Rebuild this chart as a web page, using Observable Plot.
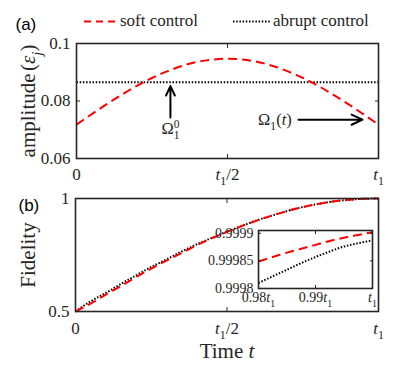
<!DOCTYPE html>
<html><head><meta charset="utf-8">
<script src="https://cdn.jsdelivr.net/npm/d3@7"></script>
<script src="https://cdn.jsdelivr.net/npm/@observablehq/plot@0.6"></script>
<style>
body{margin:0;background:#fff;}
#wrap{position:relative;width:399px;height:370px;overflow:hidden;}
#wrap svg{position:absolute;overflow:visible;}
</style></head><body><div id="wrap"></div>
<script>
// ---- data ----
const timePoints = [0,0.05,0.1,0.15,0.2,0.25,0.3,0.35,0.4,0.45,0.5,0.55,0.6,0.65,0.7,0.75,0.8,0.85,0.9,0.95,1];
const softAmplitude = [0.0718,0.0754,0.0789,0.0822,0.0853,0.0880,0.0903,0.0922,0.0936,0.0944,0.0947,0.0944,0.0936,0.0922,0.0903,0.0880,0.0853,0.0822,0.0789,0.0754,0.0718];
const abruptTime = [0,1];
const abruptAmplitude = [0.0865,0.0865];
const softFidelity = [0.5,0.535,0.575,0.613,0.652,0.690,0.725,0.758,0.793,0.824,0.852,0.879,0.903,0.925,0.945,0.962,0.976,0.987,0.994,0.9985,0.9999];
const abruptFidelity = [0.5,0.545,0.582,0.622,0.660,0.697,0.730,0.765,0.797,0.826,0.853,0.879,0.904,0.925,0.945,0.962,0.976,0.987,0.994,0.9985,0.9999];
const insetTime = [0.98,0.9825,0.985,0.9875,0.99,0.9925,0.995,0.9975,1];
const insetSoft = [0.999849,0.999857,0.999865,0.999872,0.999879,0.999886,0.999892,0.999897,0.999902];
const insetAbrupt = [0.99981,0.999822,0.999834,0.999846,0.999857,0.999867,0.999876,0.999882,0.999887];

const timeTicks = [0,0.5,1];
const timeTickLabels = ["0","t1/2","t1"];
const ampTicks = [0.06,0.08,0.1];
const ampTickLabels = ["0.06","0.08","0.1"];
const fidTicks = [0.5,1];
const fidTickLabels = ["0.5","1"];
const insetXTicks = [0.98,0.99,1];
const insetXTickLabels = ["0.98t1","0.99t1","t1"];
const insetYTicks = [0.9998,0.99985,0.9999];
const insetYTickLabels = ["0.9998","0.99985","0.9999"];
const legendLabels = ["soft control","abrupt control"];

// annotations (data coordinates of panel a)
const arrowX1 = [0.311,0.735], arrowY1 = [0.0743,0.0735], arrowX2 = [0.311,0.947], arrowY2 = [0.0852,0.0735];
const annotX = [0.311,0.657], annotY = [0.0702,0.0735], annotText = ["Omega10","Omega1t"];

// ---- build tables ----
const soft = timePoints.map((t,i)=>({t, v: softAmplitude[i]}));
const abrupt = abruptTime.map((t,i)=>({t, v: abruptAmplitude[i]}));
const softF = timePoints.map((t,i)=>({t, v: softFidelity[i]}));
const abruptF = timePoints.map((t,i)=>({t, v: abruptFidelity[i]}));
const insS = insetTime.map((t,i)=>({t, v: insetSoft[i]}));
const insA = insetTime.map((t,i)=>({t, v: insetAbrupt[i]}));
const arrows = arrowX1.map((x,i)=>({x1:x, y1:arrowY1[i], x2:arrowX2[i], y2:arrowY2[i]}));
const annots = annotX.map((x,i)=>({x, y:annotY[i], text:annotText[i]}));
const lab = (ticks, labels) => d => labels[ticks.indexOf(d)];

const SERIF = "'Liberation Serif', 'Times New Roman', serif";
const SANS = "'Liberation Sans', Arial, sans-serif";
const INK = "#262626";
const RED = "#ff0000";
const DASH = "9,5";
const DOT = "1.5,1.7";
const redStyle = {stroke:RED, strokeWidth:2, strokeDasharray:DASH, strokeLinecap:"butt"};
const blackStyle = {stroke:"black", strokeWidth:2, strokeDasharray:DOT, strokeLinecap:"butt"};

function frameAxes(xt, yt, opts = {}) {
  const ts = opts.tickLen ?? 4;
  return [
    Plot.axisX(xt, {anchor:"bottom", tickSize:-ts, tickFormat:()=>"", label:null, stroke:INK}),
    Plot.axisX(xt, {anchor:"top", tickSize:-ts, tickFormat:()=>"", label:null, stroke:INK}),
    Plot.axisY(yt, {anchor:"left", tickSize:-ts, tickFormat:()=>"", label:null, stroke:INK}),
    Plot.axisY(yt, {anchor:"right", tickSize:-ts, tickFormat:()=>"", label:null, stroke:INK}),
  ];
}

const wrap = document.getElementById("wrap");

// ---- panel (a) ----
const pa = Plot.plot({
  width: 399, height: 185,
  marginLeft: 76, marginRight: 21, marginTop: 43, marginBottom: 27,
  style: {background:"transparent", fontFamily: SERIF, fontSize:"17px", color: INK},
  x: {domain:[0,1]}, y: {domain:[0.06,0.1]},
  marks: [
    Plot.line(abrupt, {x:"t", y:"v", ...blackStyle}),
    Plot.line(soft, {x:"t", y:"v", ...redStyle, curve:"monotone-x"}),
    Plot.arrow(arrows, {x1:"x1", y1:"y1", x2:"x2", y2:"y2", stroke:"black", strokeWidth:2, headLength:9, headAngle:50}),
    Plot.text(annots, {x:"x", y:"y", text:"text", fontSize:16.5, fill:INK}),
    ...frameAxes(timeTicks, ampTicks),
    Plot.axisX(timeTicks, {anchor:"bottom", tickSize:0, tickPadding:9, tickFormat: lab(timeTicks,timeTickLabels), label:null, fontSize:17}),
    Plot.axisY(ampTicks, {anchor:"left", tickSize:0, tickPadding:6, tickFormat: lab(ampTicks,ampTickLabels), label:null, fontSize:17}),
    Plot.text(["amplitude(eps)"], {frameAnchor:"left", dx:-48, rotate:-90, textAnchor:"middle", lineAnchor:"middle", fontSize:21, fill:INK}),
    Plot.text(["(a)"], {frameAnchor:"top-left", dx:-61, dy:-19, lineAnchor:"middle", textAnchor:"start", fontSize:17, fontFamily:SANS, fill:"black"}),
    Plot.frame({stroke: INK, strokeWidth: 1.6})
  ]
});
pa.style.left = "0px"; pa.style.top = "0px";
wrap.appendChild(pa);

// legend in panel (a)
{
  const g = d3.select(pa).append("g")
    .style("font-family", SERIF).style("font-size", "17px").attr("fill", INK).attr("text-anchor","start");
  g.append("line").attr("x1",84).attr("x2",119).attr("y1",21.5).attr("y2",21.5)
    .attr("stroke",RED).attr("stroke-width",2).attr("stroke-dasharray","7,5");
  g.append("text").attr("x",120).attr("y",25.5).style("font-family", SERIF).text(legendLabels[0]);
  g.append("line").attr("x1",233).attr("x2",271).attr("y1",21.5).attr("y2",21.5)
    .attr("stroke","black").attr("stroke-width",2).attr("stroke-dasharray",DOT);
  g.append("text").attr("x",273).attr("y",25.5).style("font-family", SERIF).text(legendLabels[1]);
}

// ---- panel (b) ----
const pb = Plot.plot({
  width: 399, height: 185,
  marginLeft: 75, marginRight: 21, marginTop: 13, marginBottom: 59,
  style: {background:"transparent", fontFamily: SERIF, fontSize:"17px", color: INK},
  x: {domain:[0,1]}, y: {domain:[0.5,1]},
  marks: [
    Plot.line(abruptF, {x:"t", y:"v", ...blackStyle, curve:"monotone-x"}),
    Plot.line(softF, {x:"t", y:"v", ...redStyle, curve:"monotone-x"}),
    ...frameAxes(timeTicks, fidTicks),
    Plot.axisX(timeTicks, {anchor:"bottom", tickSize:0, tickPadding:10, tickFormat: lab(timeTicks,timeTickLabels), label:null, fontSize:17}),
    Plot.axisY(fidTicks, {anchor:"left", tickSize:0, tickPadding:6, tickFormat: lab(fidTicks,fidTickLabels), label:null, fontSize:17}),
    Plot.text(["Fidelity"], {frameAnchor:"left", dx:-47, rotate:-90, textAnchor:"middle", lineAnchor:"middle", fontSize:21, fill:INK}),
    Plot.text(["Time t"], {frameAnchor:"bottom", dy:39.5, lineAnchor:"middle", fontSize:21, fill:INK}),
    Plot.text(["(b)"], {frameAnchor:"top-left", dx:-57, dy:7, lineAnchor:"middle", textAnchor:"start", fontSize:17, fontFamily:SANS, fill:"black"}),
    Plot.frame({stroke: INK, strokeWidth: 1.6})
  ]
});
pb.style.left = "0px"; pb.style.top = "185px";
wrap.appendChild(pb);

// ---- inset ----
const pi = Plot.plot({
  width: 190, height: 90,
  marginLeft: 68, marginRight: 8, marginTop: 8, marginBottom: 24,
  style: {background:"transparent", fontFamily: SERIF, fontSize:"14px", color: INK},
  x: {domain:[0.98,1]}, y: {domain:[0.9998,0.999905]},
  marks: [
    Plot.frame({fill:"white", stroke:null}),
    Plot.line(insA, {x:"t", y:"v", ...blackStyle, curve:"monotone-x"}),
    Plot.line(insS, {x:"t", y:"v", ...redStyle, curve:"monotone-x"}),
    ...frameAxes(insetXTicks, insetYTicks, {tickLen:3}),
    Plot.axisX(insetXTicks, {anchor:"bottom", tickSize:0, tickPadding:4, tickFormat: lab(insetXTicks,insetXTickLabels), label:null, fontSize:14}),
    Plot.axisY(insetYTicks, {anchor:"left", tickSize:0, tickPadding:5, tickFormat: lab(insetYTicks,insetYTickLabels), label:null, fontSize:14}),
    Plot.frame({stroke: INK, strokeWidth: 1.6})
  ]
});
pi.style.left = "190px"; pi.style.top = "222px";
wrap.appendChild(pi);

// ---- rich text (italic math, sub/superscripts) ----
const I = t => ({t, it:true});
const richMap = {
  "t1/2": [I("t"), {t:"1", sub:true}, {t:"/2"}],
  "t1": [I("t"), {t:"1", sub:true}],
  "0.98t1": [{t:"0.98"}, I("t"), {t:"1", sub:true}],
  "0.99t1": [{t:"0.99"}, I("t"), {t:"1", sub:true}],
  "Omega10": [{t:"Ω"}, {t:"0", sup:true}, {t:"1", sub:true, back:0.35}],
  "Omega1t": [{t:"Ω"}, {t:"1", sub:true}, {t:"("}, I("t"), {t:")"}],
  "amplitude(eps)": [{t:"amplitude"}, {t:"(", dx:0.12}, I("ε"), {t:"j", it:true, sub:true}, {t:")"}],
  "Time t": [{t:"Time "}, I("t")]
};
function patch(svg) {
  d3.select(svg).selectAll("text").each(function() {
    const key = this.textContent;
    if (!(key in richMap)) return;
    const fs = parseFloat(getComputedStyle(this).fontSize) || 17;
    const el = d3.select(this);
    el.text(null);
    let shift = 0;
    for (const p of richMap[key]) {
      const ts = el.append("tspan").text(p.t);
      if (p.it) ts.attr("font-style", "italic");
      const target = p.sub ? 0.3*fs : p.sup ? -0.42*fs : 0;
      if (p.sub || p.sup) ts.attr("font-size", (0.7*fs).toFixed(2));
      let dx = 0;
      if (p.dx) dx += p.dx*fs;
      if (p.back) dx -= p.back*fs;
      if (dx) ts.attr("dx", dx.toFixed(2));
      const dy = target - shift;
      if (dy) ts.attr("dy", dy.toFixed(2));
      shift = target;
    }
  });
}
[pa, pb, pi].forEach(patch);
</script>
</body></html>
